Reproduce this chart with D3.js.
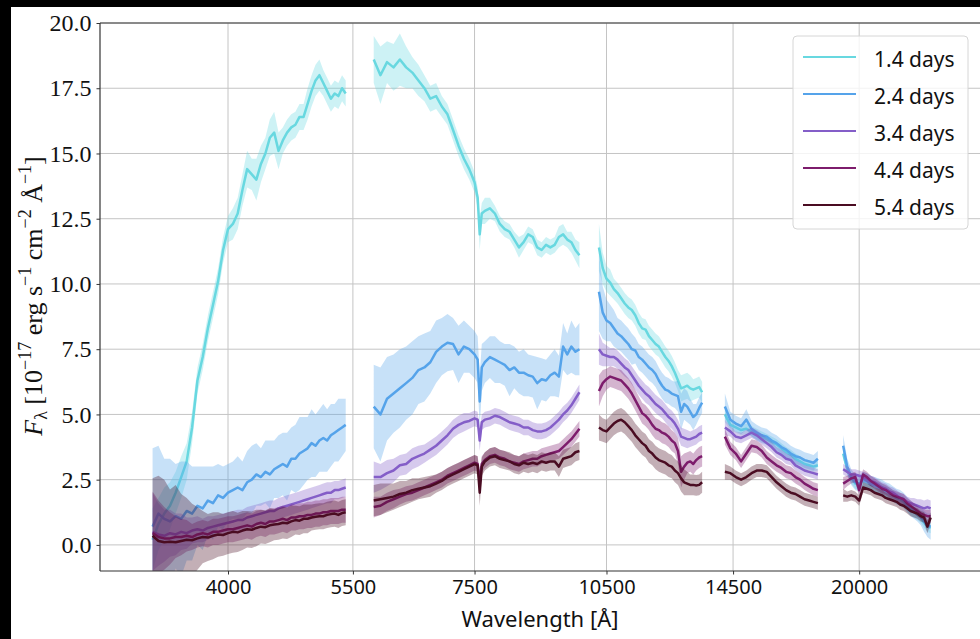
<!DOCTYPE html>
<html>
<head>
<meta charset="utf-8">
<script src="https://cdn.jsdelivr.net/npm/d3@7"></script>
<style>
  body { margin: 0; background: #fff; }
  svg { display: block; }
</style>
</head>
<body>
<div id="chart"></div>
<script>
// Wavelength grid of each spectral arm (Angstrom)
var waveUVB = [3300, 3350, 3400, 3450, 3500, 3550, 3600, 3650, 3700, 3750, 3800, 3850, 3900, 3950, 4000, 4050, 4100, 4150, 4200, 4250, 4300, 4350, 4400, 4450, 4500, 4550, 4600, 4650, 4700, 4750, 4800, 4850, 4900, 4950, 5000, 5050, 5100, 5150, 5200, 5250, 5300, 5350, 5400];
var waveVIS = [5800, 5900, 6000, 6100, 6200, 6300, 6400, 6500, 6600, 6700, 6800, 6900, 7000, 7100, 7200, 7300, 7400, 7500, 7560, 7600, 7640, 7700, 7800, 7900, 8000, 8100, 8200, 8300, 8400, 8500, 8600, 8700, 8800, 8900, 9000, 9100, 9200, 9300, 9400, 9500, 9600, 9700, 9800];
var waveNIR1 = [10300, 10400, 10500, 10600, 10700, 10800, 10900, 11000, 11100, 11200, 11300, 11400, 11500, 11600, 11700, 11800, 11900, 12000, 12100, 12200, 12300, 12400, 12500, 12600, 12700, 12800, 12900, 13000, 13100, 13200, 13300, 13400];
var waveNIR2 = [14200, 14400, 14600, 14800, 15000, 15200, 15400, 15600, 15800, 16000, 16200, 16400, 16600, 16800, 17000, 17200, 17400, 17600, 17800, 18000];
var waveNIR3 = [19200, 19400, 19600, 19800, 20000, 20200, 20400, 20600, 20800, 21000, 21200, 21400, 21600, 21800, 22000, 22200, 22400, 22600, 22800, 23000, 23200, 23400, 23600, 23800, 24000];
var segments = [waveUVB, waveVIS, waveNIR1, waveNIR2, waveNIR3];

// Epoch labels and colours
var epochs = ["1.4 days", "2.4 days", "3.4 days", "4.4 days", "5.4 days"];
var colors = ["#68d8e0", "#55a3ea", "#845ec8", "#7d1c6c", "#4a0c22"];

// Flux (1e-17 erg/s/cm2/A), one list per arm
var flux14 = [
  [0.2, 0.8, 1.2, 1.5, 2.0, 2.6, 3.2, 4.5, 6.3, 7.2, 8.3, 9.2, 10.1, 11.3, 12.1, 12.3, 12.7, 13.6, 14.4, 14.2, 14.0, 14.6, 15.0, 15.6, 15.8, 15.1, 15.5, 15.8, 16.0, 16.1, 16.4, 16.4, 16.9, 17.4, 17.8, 18.0, 17.7, 17.4, 17.1, 17.3, 17.2, 17.5, 17.3],
  [18.6, 18.0, 18.5, 18.3, 18.6, 18.3, 18.1, 17.8, 17.5, 17.1, 17.2, 16.8, 16.5, 15.9, 15.3, 14.8, 14.4, 13.9, 13.3, 11.9, 12.7, 12.8, 12.9, 12.7, 12.3, 12.1, 12.0, 11.7, 11.4, 11.6, 11.9, 11.8, 11.4, 11.3, 11.5, 11.4, 11.5, 11.8, 11.9, 11.7, 11.6, 11.3, 11.1],
  [11.4, 10.6, 10.2, 10.05, 9.8, 9.65, 9.45, 9.25, 9.1, 9.0, 8.8, 8.5, 8.3, 8.25, 8.0, 7.85, 7.7, 7.6, 7.4, 7.2, 7.05, 6.85, 6.6, 6.3, 6.0, 6.05, 6.1, 6.0, 5.95, 6.0, 6.05, 5.85],
  [5.0, 4.6, 4.5, 4.4, 4.45, 4.35, 4.25, 4.15, 4.05, 3.95, 3.85, 3.7, 3.55, 3.45, 3.3, 3.2, 3.1, 3.05, 3.0, 3.05],
  [3.5, 2.9, 2.55, 2.35, 2.3, 2.45, 2.4, 2.3, 2.25, 2.2, 2.15, 2.05, 2.0, 1.9, 1.8, 1.75, 1.65, 1.5, 1.35, 1.25, 1.15, 1.05, 0.85, 0.7, 0.65]
];
var err14 = [
  [1.2, 1.0, 1.0, 0.9, 0.8, 0.8, 0.7, 0.6, 0.5, 0.5, 0.5, 0.5, 0.5, 0.5, 0.5, 0.6, 0.6, 0.6, 0.7, 0.6, 0.8, 0.7, 0.6, 0.7, 0.8, 0.7, 0.5, 0.5, 0.5, 0.5, 0.5, 0.5, 0.6, 0.6, 0.6, 0.6, 0.5, 0.5, 0.5, 0.5, 0.5, 0.5, 0.5],
  [0.9, 1.1, 0.8, 0.9, 1.0, 0.8, 0.6, 0.6, 0.5, 0.5, 0.5, 0.4, 0.4, 0.4, 0.4, 0.4, 0.4, 0.4, 0.4, 0.6, 0.4, 0.5, 0.4, 0.3, 0.3, 0.3, 0.3, 0.3, 0.4, 0.3, 0.3, 0.3, 0.3, 0.3, 0.3, 0.3, 0.3, 0.4, 0.4, 0.3, 0.4, 0.4, 0.5],
  [0.9, 0.6, 0.5, 0.5, 0.4, 0.4, 0.4, 0.4, 0.4, 0.4, 0.4, 0.4, 0.4, 0.4, 0.4, 0.4, 0.4, 0.4, 0.4, 0.4, 0.4, 0.4, 0.4, 0.4, 0.5, 0.5, 0.5, 0.5, 0.4, 0.4, 0.4, 0.4],
  [0.3, 0.2, 0.2, 0.2, 0.2, 0.2, 0.2, 0.2, 0.2, 0.2, 0.2, 0.2, 0.2, 0.2, 0.2, 0.2, 0.2, 0.2, 0.2, 0.2],
  [0.2, 0.2, 0.2, 0.2, 0.2, 0.2, 0.2, 0.2, 0.2, 0.2, 0.2, 0.2, 0.2, 0.2, 0.2, 0.2, 0.2, 0.2, 0.2, 0.2, 0.2, 0.2, 0.2, 0.2, 0.2]
];

var flux24 = [
  [0.7, 1.2, 1.0, 0.9, 1.1, 1.0, 1.3, 1.2, 1.5, 1.4, 1.7, 1.6, 1.9, 1.8, 2.0, 2.1, 2.2, 2.1, 2.4, 2.5, 2.7, 2.6, 2.8, 2.7, 2.9, 3.0, 3.1, 3.0, 3.3, 3.3, 3.5, 3.6, 3.7, 3.9, 3.8, 4.0, 4.1, 4.0, 4.2, 4.3, 4.4, 4.5, 4.6],
  [5.3, 5.0, 5.6, 5.8, 6.0, 6.2, 6.4, 6.7, 6.8, 7.0, 7.4, 7.6, 7.75, 7.7, 7.3, 7.6, 7.5, 7.3, 7.1, 5.5, 6.8, 7.0, 7.2, 7.1, 7.0, 6.9, 6.7, 6.8, 6.6, 6.6, 6.5, 6.45, 6.2, 6.35, 6.3, 6.5, 6.6, 6.45, 7.6, 7.3, 7.6, 7.4, 7.5],
  [9.7, 8.9, 8.6, 8.5, 8.3, 8.1, 8.0, 7.85, 7.7, 7.5, 7.45, 7.2, 7.1, 6.95, 6.8, 6.7, 6.55, 6.3, 6.1, 5.95, 5.9, 5.8, 5.75, 5.7, 5.1, 5.4, 5.3, 5.1, 4.9, 5.0, 5.25, 5.45],
  [5.3, 4.8, 4.65, 4.55, 4.8, 4.45, 4.3, 4.2, 4.15, 4.0, 3.9, 3.75, 3.65, 3.5, 3.4, 3.35, 3.25, 3.2, 3.15, 3.3],
  [3.8, 3.0, 2.6, 2.4, 2.35, 2.5, 2.45, 2.35, 2.3, 2.25, 2.2, 2.1, 2.05, 1.95, 1.85, 1.8, 1.7, 1.55, 1.4, 1.3, 1.2, 1.1, 0.9, 0.75, 0.7]
];
var err24 = [
  [3.0, 2.6, 2.3, 2.4, 2.0, 2.2, 1.9, 1.8, 1.5, 1.6, 1.3, 1.4, 1.2, 1.2, 1.1, 1.1, 1.2, 1.1, 1.2, 1.3, 1.2, 1.1, 1.2, 1.3, 1.1, 1.2, 1.2, 1.3, 1.2, 1.3, 1.4, 1.3, 1.2, 1.3, 1.2, 1.2, 1.3, 1.2, 1.2, 1.1, 1.2, 1.1, 1.0],
  [1.6, 1.8, 1.6, 1.5, 1.5, 1.4, 1.4, 1.3, 1.3, 1.2, 1.2, 1.1, 1.1, 1.0, 1.1, 1.0, 0.9, 0.9, 0.9, 1.0, 0.9, 0.8, 0.8, 0.9, 0.8, 0.8, 1.0, 0.8, 0.8, 0.9, 0.8, 0.8, 1.0, 0.8, 0.8, 0.8, 0.9, 0.8, 0.9, 0.8, 1.0, 0.9, 1.0],
  [1.5, 1.0, 0.8, 0.7, 0.7, 0.6, 0.6, 0.6, 0.6, 0.6, 0.5, 0.5, 0.5, 0.5, 0.5, 0.5, 0.5, 0.5, 0.5, 0.5, 0.5, 0.5, 0.5, 0.6, 0.7, 0.6, 0.6, 0.5, 0.5, 0.4, 0.4, 0.4],
  [0.5, 0.3, 0.3, 0.3, 0.4, 0.3, 0.3, 0.3, 0.3, 0.3, 0.3, 0.3, 0.3, 0.3, 0.3, 0.3, 0.3, 0.3, 0.3, 0.3],
  [0.4, 0.3, 0.3, 0.3, 0.3, 0.3, 0.3, 0.3, 0.3, 0.3, 0.3, 0.3, 0.3, 0.3, 0.3, 0.3, 0.3, 0.3, 0.3, 0.3, 0.3, 0.35, 0.4, 0.45, 0.5]
];

var flux34 = [
  [0.5, 0.4, 0.35, 0.45, 0.4, 0.5, 0.45, 0.55, 0.6, 0.55, 0.65, 0.7, 0.75, 0.8, 0.85, 0.9, 0.95, 0.95, 1.05, 1.1, 1.15, 1.2, 1.25, 1.3, 1.3, 1.4, 1.45, 1.5, 1.55, 1.6, 1.65, 1.7, 1.75, 1.8, 1.85, 1.9, 1.95, 2.0, 2.0, 2.1, 2.1, 2.15, 2.2],
  [2.6, 2.6, 2.75, 2.85, 3.05, 3.1, 3.3, 3.4, 3.5, 3.65, 3.8, 4.0, 4.2, 4.45, 4.6, 4.7, 4.75, 4.85, 4.8, 4.0, 4.7, 4.8, 4.85, 4.95, 4.9, 4.8, 4.7, 4.65, 4.6, 4.5, 4.5, 4.4, 4.35, 4.35, 4.4, 4.5, 4.65, 4.8, 5.0, 5.15, 5.35, 5.6, 5.85],
  [7.5, 7.3, 7.25, 7.2, 7.2, 7.1, 6.95, 6.8, 6.7, 6.5, 6.3, 6.1, 5.95, 5.8, 5.7, 5.55, 5.4, 5.3, 5.2, 5.05, 4.9, 4.8, 4.65, 4.45, 4.15, 4.1, 4.05, 4.05, 4.1, 4.15, 4.25, 4.3],
  [4.5, 4.35, 4.15, 4.1, 4.2, 4.3, 4.2, 4.05, 3.9, 3.75, 3.55, 3.45, 3.3, 3.25, 3.05, 2.95, 2.85, 2.8, 2.75, 2.7],
  [2.9, 2.8, 2.7, 2.7, 2.65, 2.6, 2.55, 2.45, 2.4, 2.3, 2.2, 2.15, 2.05, 2.0, 1.9, 1.8, 1.75, 1.65, 1.6, 1.55, 1.5, 1.45, 1.4, 1.45, 1.4]
];
var err34 = [
  [1.5, 1.2, 1.0, 0.9, 0.8, 0.7, 0.6, 0.5, 0.5, 0.45, 0.45, 0.4, 0.4, 0.4, 0.4, 0.4, 0.4, 0.4, 0.4, 0.4, 0.4, 0.4, 0.4, 0.4, 0.4, 0.4, 0.4, 0.4, 0.4, 0.4, 0.4, 0.4, 0.4, 0.4, 0.4, 0.4, 0.4, 0.4, 0.4, 0.35, 0.35, 0.35, 0.35],
  [0.6, 0.5, 0.5, 0.45, 0.4, 0.4, 0.4, 0.4, 0.35, 0.35, 0.35, 0.35, 0.35, 0.35, 0.35, 0.35, 0.3, 0.3, 0.3, 0.4, 0.3, 0.3, 0.3, 0.3, 0.3, 0.3, 0.3, 0.3, 0.3, 0.3, 0.3, 0.3, 0.3, 0.3, 0.3, 0.3, 0.3, 0.3, 0.3, 0.3, 0.3, 0.3, 0.3],
  [0.6, 0.45, 0.4, 0.35, 0.35, 0.35, 0.35, 0.35, 0.35, 0.35, 0.35, 0.35, 0.35, 0.35, 0.35, 0.35, 0.35, 0.35, 0.35, 0.35, 0.35, 0.35, 0.35, 0.35, 0.35, 0.35, 0.35, 0.3, 0.3, 0.3, 0.3, 0.3],
  [0.3, 0.2, 0.2, 0.2, 0.2, 0.2, 0.2, 0.2, 0.2, 0.2, 0.2, 0.2, 0.2, 0.2, 0.2, 0.2, 0.2, 0.2, 0.2, 0.2],
  [0.2, 0.2, 0.2, 0.2, 0.2, 0.2, 0.2, 0.2, 0.2, 0.2, 0.2, 0.2, 0.2, 0.2, 0.2, 0.2, 0.2, 0.2, 0.2, 0.25, 0.25, 0.3, 0.3, 0.3, 0.3]
];

var flux44 = [
  [0.45, 0.3, 0.25, 0.25, 0.3, 0.3, 0.35, 0.3, 0.4, 0.45, 0.4, 0.5, 0.5, 0.55, 0.6, 0.6, 0.65, 0.7, 0.75, 0.7, 0.8, 0.85, 0.8, 0.9, 0.9, 0.95, 1.0, 0.95, 1.05, 1.05, 1.1, 1.1, 1.15, 1.15, 1.2, 1.2, 1.25, 1.25, 1.3, 1.3, 1.3, 1.35, 1.35],
  [1.45, 1.5, 1.65, 1.75, 1.85, 1.95, 2.0, 2.1, 2.2, 2.3, 2.4, 2.5, 2.65, 2.75, 2.85, 2.95, 3.05, 3.15, 3.1, 2.4, 3.1, 3.25, 3.4, 3.45, 3.35, 3.3, 3.2, 3.15, 3.1, 3.2, 3.25, 3.3, 3.3, 3.4, 3.45, 3.5, 3.55, 3.6, 3.75, 3.9, 4.05, 4.25, 4.45],
  [5.9, 6.2, 6.35, 6.45, 6.4, 6.35, 6.3, 6.15, 6.0, 5.8, 5.55, 5.3, 5.05, 4.95, 4.8, 4.6, 4.45, 4.4, 4.3, 4.25, 4.15, 4.0, 3.9, 3.6, 2.8, 3.0, 3.15, 3.2, 3.1, 3.25, 3.35, 3.4],
  [4.15, 3.7, 3.5, 3.2, 3.5, 3.8, 3.75, 3.6, 3.35, 3.2, 3.05, 2.95, 2.8, 2.75, 2.6, 2.5, 2.35, 2.25, 2.15, 2.1],
  [2.35, 2.45, 2.55, 2.6, 2.1, 2.7, 2.6, 2.45, 2.35, 2.25, 2.15, 2.1, 2.0, 1.9, 1.85, 1.8, 1.75, 1.6, 1.5, 1.4, 1.3, 1.2, 1.15, 1.1, 1.1]
];
var err44 = [
  [1.6, 1.4, 1.2, 1.0, 0.8, 0.7, 0.6, 0.5, 0.5, 0.5, 0.5, 0.5, 0.5, 0.5, 0.5, 0.5, 0.5, 0.5, 0.5, 0.5, 0.5, 0.5, 0.5, 0.5, 0.5, 0.5, 0.5, 0.5, 0.5, 0.5, 0.5, 0.5, 0.5, 0.5, 0.5, 0.5, 0.5, 0.5, 0.5, 0.5, 0.5, 0.5, 0.5],
  [0.4, 0.35, 0.35, 0.35, 0.3, 0.3, 0.3, 0.3, 0.3, 0.3, 0.3, 0.3, 0.3, 0.3, 0.3, 0.3, 0.3, 0.3, 0.3, 0.4, 0.3, 0.3, 0.3, 0.3, 0.3, 0.3, 0.3, 0.3, 0.3, 0.3, 0.3, 0.3, 0.3, 0.3, 0.3, 0.3, 0.3, 0.3, 0.3, 0.3, 0.3, 0.3, 0.3],
  [0.6, 0.5, 0.4, 0.4, 0.4, 0.4, 0.4, 0.4, 0.4, 0.4, 0.4, 0.4, 0.4, 0.4, 0.4, 0.4, 0.4, 0.4, 0.4, 0.4, 0.4, 0.4, 0.4, 0.5, 0.6, 0.5, 0.4, 0.4, 0.4, 0.4, 0.4, 0.4],
  [0.3, 0.25, 0.25, 0.25, 0.25, 0.25, 0.25, 0.25, 0.25, 0.25, 0.25, 0.25, 0.25, 0.25, 0.25, 0.25, 0.25, 0.25, 0.25, 0.25],
  [0.25, 0.2, 0.2, 0.2, 0.25, 0.2, 0.2, 0.2, 0.2, 0.2, 0.2, 0.2, 0.2, 0.2, 0.2, 0.2, 0.2, 0.2, 0.2, 0.2, 0.2, 0.2, 0.2, 0.25, 0.25]
];

var flux54 = [
  [0.35, 0.15, 0.1, 0.12, 0.1, 0.15, 0.2, 0.18, 0.25, 0.3, 0.28, 0.35, 0.4, 0.38, 0.45, 0.5, 0.48, 0.55, 0.6, 0.58, 0.65, 0.7, 0.68, 0.75, 0.78, 0.8, 0.85, 0.83, 0.9, 0.95, 0.93, 1.0, 1.0, 1.05, 1.08, 1.1, 1.1, 1.15, 1.18, 1.2, 1.15, 1.22, 1.25],
  [1.7, 1.75, 1.8, 1.85, 1.95, 2.0, 2.1, 2.15, 2.2, 2.25, 2.35, 2.45, 2.6, 2.7, 2.8, 2.9, 3.0, 3.1, 3.05, 2.0, 3.0, 3.2, 3.35, 3.4, 3.3, 3.25, 3.2, 3.1, 3.05, 3.15, 3.1, 3.15, 3.1, 3.2, 3.15, 3.2, 3.2, 3.0, 3.3, 3.35, 3.4, 3.55, 3.6],
  [4.5, 4.4, 4.35, 4.5, 4.65, 4.75, 4.8, 4.7, 4.55, 4.4, 4.2, 4.05, 3.9, 3.8, 3.6, 3.5, 3.35, 3.25, 3.2, 3.15, 3.05, 3.0, 2.85, 2.75, 2.55, 2.4, 2.35, 2.3, 2.3, 2.28, 2.3, 2.4],
  [2.8, 2.75, 2.6, 2.5, 2.6, 2.75, 2.85, 2.85, 2.8, 2.6, 2.4, 2.25, 2.1, 2.0, 1.95, 1.85, 1.75, 1.7, 1.65, 1.6],
  [1.9, 1.85, 1.9, 1.85, 1.7, 2.2, 2.15, 2.1, 2.0, 1.95, 1.9, 1.8, 1.75, 1.7, 1.65, 1.55, 1.5, 1.4, 1.3, 1.25, 1.2, 1.1, 1.05, 0.7, 1.05]
];
var err54 = [
  [2.2, 2.5, 2.4, 2.0, 2.2, 1.8, 1.6, 1.4, 1.2, 1.0, 0.9, 0.9, 0.85, 0.8, 0.8, 0.8, 0.75, 0.75, 0.7, 0.7, 0.7, 0.65, 0.65, 0.65, 0.6, 0.6, 0.6, 0.6, 0.6, 0.55, 0.55, 0.55, 0.55, 0.5, 0.5, 0.5, 0.5, 0.5, 0.5, 0.5, 0.5, 0.5, 0.5],
  [0.6, 0.6, 0.55, 0.5, 0.5, 0.45, 0.45, 0.4, 0.4, 0.4, 0.35, 0.35, 0.35, 0.35, 0.35, 0.35, 0.35, 0.35, 0.35, 0.5, 0.35, 0.35, 0.35, 0.35, 0.35, 0.35, 0.35, 0.35, 0.35, 0.35, 0.35, 0.35, 0.35, 0.35, 0.35, 0.35, 0.35, 0.4, 0.35, 0.35, 0.35, 0.35, 0.35],
  [0.5, 0.45, 0.45, 0.45, 0.45, 0.45, 0.45, 0.45, 0.45, 0.45, 0.45, 0.45, 0.45, 0.45, 0.45, 0.45, 0.45, 0.45, 0.45, 0.45, 0.45, 0.45, 0.45, 0.45, 0.5, 0.5, 0.45, 0.4, 0.4, 0.4, 0.4, 0.4],
  [0.3, 0.25, 0.25, 0.25, 0.25, 0.25, 0.25, 0.25, 0.25, 0.25, 0.25, 0.25, 0.25, 0.25, 0.25, 0.25, 0.25, 0.25, 0.25, 0.25],
  [0.25, 0.2, 0.2, 0.2, 0.2, 0.2, 0.2, 0.2, 0.2, 0.2, 0.2, 0.2, 0.2, 0.2, 0.2, 0.2, 0.2, 0.2, 0.2, 0.2, 0.2, 0.2, 0.2, 0.25, 0.2]
];

var fluxes = [flux14, flux24, flux34, flux44, flux54];
var errors = [err14, err24, err34, err44, err54];

// Tick values
var xTickValues = [4000, 5500, 7500, 10500, 14500, 20000];
var yTickValues = [0, 2.5, 5, 7.5, 10, 12.5, 15, 17.5, 20];

//Define SVG area
var svgWidth = 980;
var svgHeight = 639;

//Plot box (right side runs off the picture)
var plot = { left: 100, top: 23, right: 1000, bottom: 571 };

var svg = d3.select("#chart")
    .append("svg")
    .attr("width", svgWidth)
    .attr("height", svgHeight);

svg.append("rect")
    .attr("width", svgWidth)
    .attr("height", svgHeight)
    .attr("fill", "#fff");

//Scales: log wavelength, linear flux
var xScale = d3.scaleLog()
    .domain([2886, 28640])
    .range([plot.left, plot.right]);

var yScale = d3.scaleLinear()
    .domain([-1, 20])
    .range([plot.bottom, plot.top]);

svg.append("clipPath")
    .attr("id", "plotClip")
    .append("rect")
    .attr("x", plot.left)
    .attr("y", plot.top)
    .attr("width", plot.right - plot.left)
    .attr("height", plot.bottom - plot.top);

//Grid lines
var grid = svg.append("g");
grid.selectAll(".gx")
    .data(xTickValues)
    .enter()
    .append("line")
    .attr("x1", d => xScale(d))
    .attr("x2", d => xScale(d))
    .attr("y1", plot.top)
    .attr("y2", plot.bottom)
    .attr("stroke", "#c4c4c4")
    .attr("stroke-width", 1);
grid.selectAll(".gy")
    .data(yTickValues)
    .enter()
    .append("line")
    .attr("x1", plot.left)
    .attr("x2", plot.right)
    .attr("y1", d => yScale(d))
    .attr("y2", d => yScale(d))
    .attr("stroke", "#c4c4c4")
    .attr("stroke-width", 1);

//Spectra: error band then line, per epoch and arm
var specGroup = svg.append("g").attr("clip-path", "url(#plotClip)");

fluxes.forEach(function(series, i) {
    segments.forEach(function(waves, s) {
        var pts = waves.map((w, k) => ({ w: w, f: series[s][k], e: errors[i][s][k] }));

        var area = d3.area()
            .x(d => xScale(d.w))
            .y0(d => yScale(d.f - d.e))
            .y1(d => yScale(d.f + d.e));

        var line = d3.line()
            .x(d => xScale(d.w))
            .y(d => yScale(d.f));

        specGroup.append("path")
            .datum(pts)
            .attr("d", area)
            .attr("fill", colors[i])
            .attr("fill-opacity", 0.33)
            .attr("stroke", "none");

        specGroup.append("path")
            .datum(pts)
            .attr("d", line)
            .attr("fill", "none")
            .attr("stroke", colors[i])
            .attr("stroke-width", 2.5)
            .attr("stroke-linejoin", "round");
    });
});

//Axes
var bottomAxis = d3.axisBottom(xScale)
    .tickValues(xTickValues)
    .tickFormat(d3.format("d"))
    .tickSize(3.5)
    .tickPadding(5);

var leftAxis = d3.axisLeft(yScale)
    .tickValues(yTickValues)
    .tickFormat(d3.format(".1f"))
    .tickSize(3.5)
    .tickPadding(5);

var xAxis = svg.append("g")
    .attr("transform", `translate(0, ${plot.bottom})`)
    .call(bottomAxis);
xAxis.select(".domain").remove();
xAxis.selectAll("line").attr("stroke", "#333");
xAxis.selectAll("text")
    .attr("font-family", "'Noto Sans', sans-serif")
    .attr("font-size", 20)
    .attr("fill", "#111");

var yAxis = svg.append("g")
    .attr("transform", `translate(${plot.left}, 0)`)
    .call(leftAxis);
yAxis.select(".domain").remove();
yAxis.selectAll("line").attr("stroke", "#333");
yAxis.selectAll("text")
    .attr("font-family", "'Liberation Serif', serif")
    .attr("font-size", 24)
    .attr("fill", "#111");

//Spines
var spines = svg.append("g").attr("stroke", "#333").attr("stroke-width", 1.2);
spines.append("line").attr("x1", plot.left).attr("x2", svgWidth).attr("y1", plot.top).attr("y2", plot.top);
spines.append("line").attr("x1", plot.left).attr("x2", svgWidth).attr("y1", plot.bottom).attr("y2", plot.bottom);
spines.append("line").attr("x1", plot.left).attr("x2", plot.left).attr("y1", plot.top).attr("y2", plot.bottom);

//Axis titles
svg.append("text")
    .attr("x", 540)
    .attr("y", 627)
    .attr("text-anchor", "middle")
    .attr("font-family", "'Noto Sans', sans-serif")
    .attr("font-size", 22)
    .attr("fill", "#111")
    .text("Wavelength [Å]");

var yLabel = svg.append("text")
    .attr("transform", "translate(42, 296) rotate(-90)")
    .attr("text-anchor", "middle")
    .attr("font-family", "'Liberation Serif', serif")
    .attr("font-size", 26)
    .attr("fill", "#111");

var labelParts = [
    { t: "F", dy: 0, size: 26, italic: true },
    { t: "λ", dy: 5, size: 18 },
    { t: " [10", dy: -5, size: 26 },
    { t: "−17", dy: -11, size: 18 },
    { t: " erg s", dy: 11, size: 26 },
    { t: "−1", dy: -11, size: 18 },
    { t: " cm", dy: 11, size: 26 },
    { t: "−2", dy: -11, size: 18 },
    { t: " Å", dy: 11, size: 26 },
    { t: "−1", dy: -11, size: 18 },
    { t: "]", dy: 11, size: 26 }
];
labelParts.forEach(function(p) {
    yLabel.append("tspan")
        .attr("dy", p.dy)
        .attr("font-size", p.size)
        .attr("font-style", p.italic ? "italic" : null)
        .text(p.t);
});

//Legend
var legend = svg.append("g");
legend.append("rect")
    .attr("x", 793)
    .attr("y", 36)
    .attr("width", 175)
    .attr("height", 193)
    .attr("rx", 4)
    .attr("fill", "#fff")
    .attr("fill-opacity", 0.8)
    .attr("stroke", "#d6d6d6");

epochs.forEach(function(label, i) {
    var yRow = 57 + i * 37;
    legend.append("line")
        .attr("x1", 803)
        .attr("x2", 856)
        .attr("y1", yRow)
        .attr("y2", yRow)
        .attr("stroke", colors[i])
        .attr("stroke-width", 2);
    legend.append("text")
        .attr("x", 874)
        .attr("y", yRow + 9.5)
        .attr("font-family", "'Noto Sans', sans-serif")
        .attr("font-size", 21)
        .attr("fill", "#111")
        .text(label);
});

//Black frame strips of the screenshot
svg.append("rect").attr("x", 0).attr("y", 0).attr("width", svgWidth).attr("height", 7).attr("fill", "#000");
svg.append("rect").attr("x", 0).attr("y", 0).attr("width", 11).attr("height", svgHeight).attr("fill", "#000");
</script>
</body>
</html>
